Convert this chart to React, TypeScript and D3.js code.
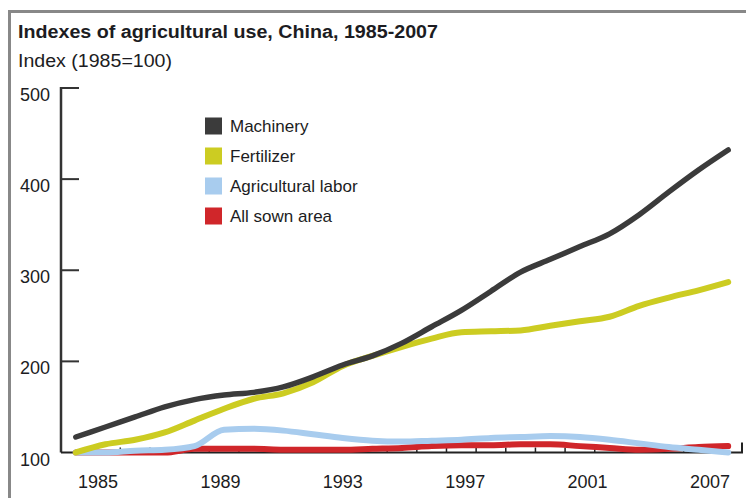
import React from 'react';
import * as d3 from 'd3';

const years = [1985, 1986, 1987, 1988, 1989, 1990, 1991, 1992, 1993, 1994, 1995, 1996,
  1997, 1998, 1999, 2000, 2001, 2002, 2003, 2004, 2005, 2006, 2007];

const machinery = [117, 128, 139, 150, 158, 163, 166, 172, 183, 196, 206, 220,
  238, 256, 277, 298, 312, 326, 340, 361, 386, 410, 432];
const fertilizer = [100, 109, 114, 122, 135, 148, 159, 165, 177, 195, 206, 216,
  225, 232, 233, 234, 239, 244, 249, 261, 270, 278, 287];
const labor = [100, 100, 102, 103, 107, 125, 126, 124, 120, 116, 113, 112,
  113, 114, 116, 117, 118, 117, 114, 110, 106, 103, 100];
const sownArea = [100, 100, 100, 100, 104, 104, 104, 103, 103, 103, 104, 105,
  107, 108, 108, 109, 109, 107, 105, 103, 104, 106, 107];

const yTicks = [100, 200, 300, 400, 500];
const xTickLabels = ['1985', '1989', '1993', '1997', '2001', '2007'];

const series = [
  { name: 'All sown area', values: sownArea, color: '#d0262a', width: 6 },
  { name: 'Agricultural labor', values: labor, color: '#a8ccee', width: 6 },
  { name: 'Fertilizer', values: fertilizer, color: '#cccc22', width: 6 },
  { name: 'Machinery', values: machinery, color: '#3b3b3b', width: 5.5 },
];
const legendOrder = ['Machinery', 'Fertilizer', 'Agricultural labor', 'All sown area'];

const font = 'Liberation Sans, Arial, sans-serif';
const ink = '#1c1c22';

const App: React.FC = () => {
  const x = d3.scaleLinear().domain([1984.5, 2007.5]).range([61, 743]);
  const y = d3.scaleLinear().domain([100, 500]).range([452.5, 88]);
  const xLabel = d3.scalePoint<string>().domain(xTickLabels).range([98, 710]);

  const line = d3.line<number>()
    .x((_, i) => x(years[i]))
    .y(d => y(d))
    .curve(d3.curveMonotoneX);

  // minor ticks sit between years
  const minorTicks = years.slice(0, -1).map(yr => yr + 0.5);

  return (
    <svg width={746} height={498} style={{ position: 'absolute', left: 0, top: 0, background: '#fff' }}
      fontFamily={font}>
      {/* frame */}
      <line x1={9.5} x2={9.5} y1={10} y2={498} stroke="#888" strokeWidth={3} />
      <line x1={8} x2={746} y1={11.5} y2={11.5} stroke="#888" strokeWidth={3} />

      <text x={18} y={38} fontSize={18} fontWeight="bold" fill={ink}
        textLength={420} lengthAdjust="spacingAndGlyphs">
        Indexes of agricultural use, China, 1985-2007
      </text>
      <text x={18} y={67} fontSize={18} fill={ink}
        textLength={154} lengthAdjust="spacingAndGlyphs">Index (1985=100)</text>

      {/* y axis */}
      <line x1={61} x2={61} y1={y(500) - 1} y2={y(100)} stroke="#333" strokeWidth={2.5} />
      {yTicks.map(t => (
        <g key={t}>
          {t > 100 && <line x1={61} x2={79} y1={y(t)} y2={y(t)} stroke="#333" strokeWidth={2} />}
          <text x={50} y={y(t) + 13} textAnchor="end" fontSize={18} fill={ink}>{t}</text>
        </g>
      ))}

      {/* x axis */}
      <line x1={61} x2={743} y1={y(100)} y2={y(100)} stroke="#222" strokeWidth={2} />
      {minorTicks.map(t => (
        <line key={t} x1={x(t)} x2={x(t)} y1={y(100)} y2={y(100) - 5} stroke="#222" strokeWidth={1.5} />
      ))}
      <line x1={x(2007.5) - 1} x2={x(2007.5) - 1} y1={y(100)} y2={y(100) - 10} stroke="#222" strokeWidth={2} />
      {xTickLabels.map(l => (
        <text key={l} x={xLabel(l)} y={488} textAnchor="middle" fontSize={18} fill={ink}>{l}</text>
      ))}

      {/* series */}
      {series.map(s => (
        <path key={s.name} d={line(s.values) ?? ''} fill="none" stroke={s.color}
          strokeWidth={s.width} strokeLinecap="round" strokeLinejoin="round" />
      ))}

      {/* legend */}
      {legendOrder.map((name, i) => {
        const s = series.find(d => d.name === name)!;
        const cy = 126 + i * 30;
        return (
          <g key={name}>
            <rect x={205} y={cy - 8.5} width={17} height={17} fill={s.color} />
            <text x={230} y={cy + 6} fontSize={17} fill={ink}>{name}</text>
          </g>
        );
      })}
    </svg>
  );
};

export default App;
